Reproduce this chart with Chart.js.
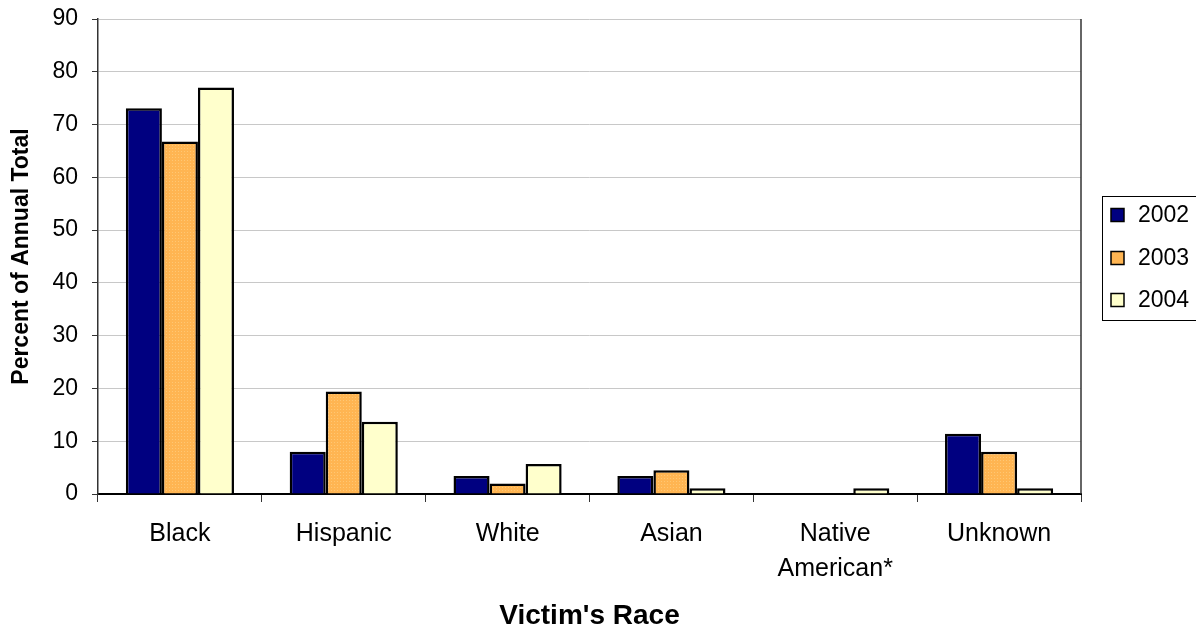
<!DOCTYPE html>
<html>
<head>
<meta charset="utf-8">
<script src="https://cdn.jsdelivr.net/npm/chart.js@4.4.1/dist/chart.umd.min.js"></script>
<style>
  html, body { margin: 0; padding: 0; background: #ffffff; }
  #wrap { width: 1196px; height: 630px; position: relative; }
</style>
</head>
<body>
<div id="wrap"><canvas id="c" width="1196" height="630"></canvas></div>
<script>
const categories = ["Black", "Hispanic", "White", "Asian", ["Native", "American*"], "Unknown"];
const seriesLabels = ["2002", "2003", "2004"];
const values2002 = [73.1, 8.0, 3.4, 3.4, 0, 11.4];
const values2003 = [66.8, 19.4, 2.0, 4.5, 0, 8.0];
const values2004 = [77.0, 13.7, 5.7, 1.1, 1.1, 1.1];
const yTicks = [0, 10, 20, 30, 40, 50, 60, 70, 80, 90];
const yTitle = "Percent of Annual Total";
const xTitle = "Victim's Race";

const FONT = "'Liberation Sans', Arial, sans-serif";

function makeDotPattern() {
  const p = document.createElement('canvas');
  p.width = 3; p.height = 3;
  const g = p.getContext('2d');
  g.fillStyle = '#FFB552';
  g.fillRect(0, 0, 3, 3);
  g.fillStyle = '#FFC773';
  g.fillRect(1, 1, 1, 1);
  return document.getElementById('c').getContext('2d').createPattern(p, 'repeat');
}
const orangePattern = makeDotPattern();

const legendColors = ['#000080', '#FFB552', '#FFFFCC'];

const customLegend = {
  id: 'customLegend',
  afterDraw(chart) {
    const ctx = chart.ctx;
    ctx.save();
    const a = chart.chartArea;
    ctx.strokeStyle = '#333333';
    ctx.lineWidth = 1.5;
    ctx.beginPath();
    ctx.moveTo(a.right, a.top);
    ctx.lineTo(a.right, a.bottom);
    ctx.stroke();
    ctx.strokeStyle = '#000000';
    ctx.lineWidth = 1;
    ctx.strokeRect(1102.5, 196.5, 100, 124);
    const ys = [215, 258, 300];
    ctx.font = "23px " + FONT;
    ctx.textBaseline = 'middle';
    ctx.textAlign = 'left';
    chart.data.datasets.forEach((ds, i) => {
      const y = ys[i];
      ctx.fillStyle = legendColors[i];
      ctx.fillRect(1111, y - 6.5, 13, 13);
      ctx.strokeStyle = '#000000';
      ctx.lineWidth = 1.5;
      ctx.strokeRect(1111, y - 6.5, 13, 13);
      ctx.fillStyle = '#000000';
      ctx.fillText(ds.label, 1138, y + 1);
    });
    ctx.restore();
  }
};

new Chart(document.getElementById('c'), {
  type: 'bar',
  data: {
    labels: categories,
    datasets: [
      { label: seriesLabels[0], data: values2002, backgroundColor: '#000080', borderColor: '#000000', borderWidth: 2.5, borderSkipped: 'bottom' },
      { label: seriesLabels[1], data: values2003, backgroundColor: orangePattern, borderColor: '#000000', borderWidth: 2.5, borderSkipped: 'bottom' },
      { label: seriesLabels[2], data: values2004, backgroundColor: '#FFFFCC', borderColor: '#000000', borderWidth: 2.5, borderSkipped: 'bottom' }
    ]
  },
  options: {
    responsive: false,
    animation: false,
    devicePixelRatio: 1,
    layout: { padding: { left: 0, right: 115, top: 19, bottom: 0 } },
    datasets: { bar: { categoryPercentage: 0.66, barPercentage: 1.0 } },
    plugins: {
      legend: { display: false },
      tooltip: { enabled: false }
    },
    scales: {
      x: {
        afterFit(scale) { scale.height = 136; scale.paddingLeft = 0; scale.paddingRight = 0; },
        grid: { display: true, drawOnChartArea: false, drawTicks: true, offset: true, tickLength: 8, tickColor: '#333333', color: '#333333' },
        border: { display: true, color: '#000000', width: 2 },
        ticks: { color: '#000000', font: { family: FONT, size: 25, lineHeight: 1.38 }, padding: 15, maxRotation: 0, autoSkip: false },
        title: { display: true, text: xTitle, color: '#000000', font: { family: FONT, size: 28, weight: 'bold', lineHeight: 1.0 }, padding: { top: 0, bottom: 0 } }
      },
      y: {
        min: 0, max: 90,
        afterFit(scale) { scale.width = 98; scale.paddingTop = 0; scale.paddingBottom = 0; },
        afterBuildTicks(scale) { scale.ticks = yTicks.map(v => ({ value: v })); },
        grid: { color: '#C8C8C8', lineWidth: 1, tickLength: 6, tickColor: '#333333', drawTicks: true },
        border: { display: true, color: '#333333', width: 1.5 },
        ticks: { color: '#000000', font: { family: FONT, size: 23 }, padding: 14 },
        title: { display: true, text: yTitle, color: '#000000', font: { family: FONT, size: 23, weight: 'bold', lineHeight: 1.0 }, padding: { top: 10, bottom: 0 } }
      }
    }
  },
  plugins: [customLegend]
});
</script>
</body>
</html>
